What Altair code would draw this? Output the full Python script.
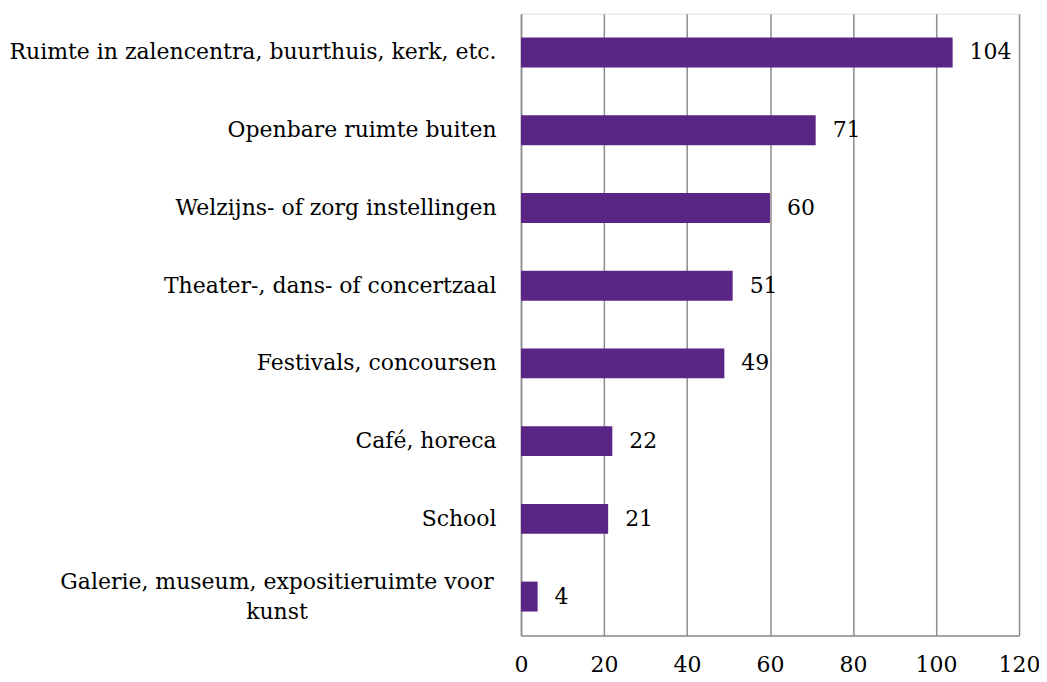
import altair as alt
import pandas as pd

categories = [
    "Ruimte in zalencentra, buurthuis, kerk, etc.",
    "Openbare ruimte buiten",
    "Welzijns- of zorg instellingen",
    "Theater-, dans- of concertzaal",
    "Festivals, concoursen",
    "Café, horeca",
    "School",
    "Galerie, museum, expositieruimte voor\nkunst",
]
values = [104, 71, 60, 51, 49, 22, 21, 4]
x_ticks = [0, 20, 40, 60, 80, 100, 120]

df = pd.DataFrame({"cat": categories, "val": values})

FONT = "DejaVu Serif"
FS = 22
GRID = "#8c8c8c"
BAR = "#5b2585"

y_enc = alt.Y(
    "cat:N",
    sort=categories,
    scale=alt.Scale(paddingInner=0.615, paddingOuter=0.3075),
    axis=alt.Axis(
        title=None,
        ticks=False,
        domain=True,
        domainColor=GRID,
        domainWidth=1.5,
        labelFont=FONT,
        labelFontSize=FS,
        labelColor="#000000",
        labelLineHeight=30,
        labelExpr="split(datum.label, '\\n')",
        labelAlign=alt.condition("indexof(datum.label, 'Galerie') >= 0", alt.value("center"), alt.value("right")),
        labelPadding=alt.condition("indexof(datum.label, 'Galerie') >= 0", alt.value(245), alt.value(25)),
        labelOffset=alt.condition("indexof(datum.label, 'Galerie') >= 0", alt.value(-15), alt.value(0)),
        labelLimit=600,
    ),
)

x_enc = alt.X(
    "val:Q",
    scale=alt.Scale(domain=[0, 120], nice=False),
    axis=alt.Axis(
        title=None,
        values=x_ticks,
        ticks=False,
        grid=True,
        gridColor=GRID,
        gridWidth=1.5,
        domain=True,
        domainColor=GRID,
        domainWidth=1.5,
        labelFont=FONT,
        labelFontSize=FS,
        labelColor="#000000",
        labelPadding=19,
        labelFlush=False,
    ),
)

bars = alt.Chart(df).mark_bar(color=BAR).encode(y=y_enc, x=x_enc)
labels = alt.Chart(df).mark_text(
    align="left", baseline="middle", dx=17, font=FONT, fontSize=FS, color="#000000"
).encode(y=alt.Y("cat:N", sort=categories), x="val:Q", text="val:Q")

chart = (
    alt.layer(bars, labels)
    .properties(
        width=499,
        height=623,
        autosize=alt.AutoSizeParams(type="none"),
        padding={"left": 514, "top": 5, "right": 20, "bottom": 44},
    )
    .configure_view(stroke=None)
    .configure(background="white")
)

chart.save("out.html", embed_options={"renderer": "svg", "actions": False})
